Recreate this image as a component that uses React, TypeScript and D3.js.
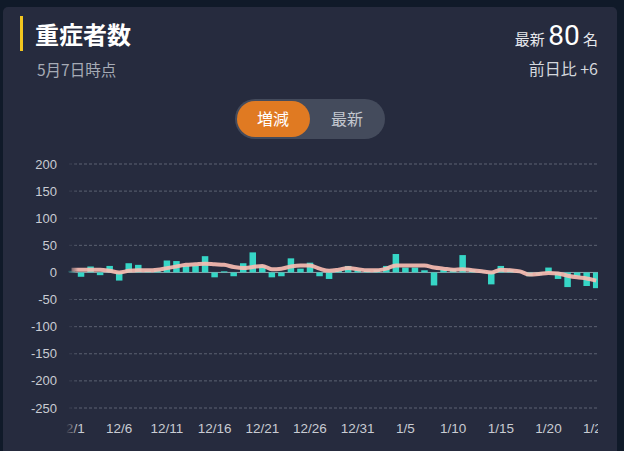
import { useEffect, useRef } from 'react';
import * as d3 from 'd3';

// daily change in severe cases, 12/1 onward (one value per day)
const changes: number[] = [
  3, -8, 11, -5, 12, -15, 17, 14, 3, 4,
  22, 21, 12, 12, 30, -9, 2, -7, 17, 37,
  13, -9, -7, 26, 7, 18, -7, -12, 3, 12,
  4, 3, 5, 12, 34, 9, 9, 4, -24, 5,
  6, 32, 5, 3, -22, 12, 5, 2, -7, -5,
  9, -12, -27, -7, -25, -29,
];
// 7-day average line
const average: number[] = [
  5, 5, 5, 5, 3, 0, 3, 4, 4, 5,
  8, 11, 14, 15, 16, 15, 14, 10, 8, 10,
  12, 6, 7, 11, 13, 13, 7, 3, 5, 8,
  6, 4, 4, 7, 13, 13, 13, 13, 9, 7,
  5, 6, 4, 2, 0, 5, 4, 2, -4, -3,
  -1, -2, -6, -9, -11, -15,
];
const dayLabels: string[] = [
  '12/1', '12/6', '12/11', '12/16', '12/21', '12/26', '12/31',
  '1/5', '1/10', '1/15', '1/20', '1/25',
];
const yTicks: number[] = [200, 150, 100, 50, 0, -50, -100, -150, -200, -250];

const W = 624;
const H = 451;
const CARD = '#262b3e';

export default function App() {
  const ref = useRef<SVGSVGElement>(null);

  useEffect(() => {
    if (!ref.current) return;
    const svg = d3.select(ref.current);
    svg.selectAll('*').remove();

    svg.append('rect').attr('width', W).attr('height', H).attr('fill', '#101a29');
    svg.append('rect').attr('x', 3).attr('y', 7).attr('width', 614).attr('height', 460)
      .attr('rx', 5).attr('fill', CARD);

    // header
    svg.append('rect').attr('x', 20).attr('y', 16).attr('width', 3).attr('height', 35).attr('fill', '#f2c61f');
    const cjk = "'Noto Sans CJK JP', 'Noto Sans', sans-serif";
    svg.append('text').attr('x', 35).attr('y', 44).attr('fill', '#ffffff')
      .attr('font-family', cjk).attr('font-size', 24).attr('font-weight', 700).text('重症者数');
    svg.append('text').attr('x', 37).attr('y', 76).attr('fill', '#a6abb6')
      .attr('font-family', cjk).attr('font-size', 15.5).text('5月7日時点');

    const latest = svg.append('text').attr('x', 598).attr('y', 45).attr('text-anchor', 'end')
      .attr('fill', '#e6e8ec').attr('font-family', cjk);
    latest.append('tspan').attr('font-size', 15).text('最新 ');
    latest.append('tspan').attr('font-size', 28).attr('fill', '#ffffff')
      .attr('font-family', "Roboto, 'Noto Sans', sans-serif").text('80');
    latest.append('tspan').attr('font-size', 15).text(' 名');
    svg.append('text').attr('x', 598).attr('y', 75).attr('text-anchor', 'end')
      .attr('fill', '#d4d7dd').attr('font-family', cjk).attr('font-size', 16).text('前日比 +6');

    // toggle
    svg.append('rect').attr('x', 235).attr('y', 99).attr('width', 150).attr('height', 40)
      .attr('rx', 20).attr('fill', '#444b5c');
    svg.append('rect').attr('x', 237).attr('y', 101).attr('width', 73).attr('height', 36)
      .attr('rx', 18).attr('fill', '#e07a22');
    svg.append('text').attr('x', 273).attr('y', 125).attr('text-anchor', 'middle').attr('fill', '#ffffff')
      .attr('font-family', cjk).attr('font-size', 16).text('増減');
    svg.append('text').attr('x', 347).attr('y', 125).attr('text-anchor', 'middle').attr('fill', '#c3c7cf')
      .attr('font-family', cjk).attr('font-size', 16).text('最新');

    // scales
    const y = d3.scaleLinear().domain([-250, 200]).range([408, 164]);
    const x = d3.scaleLinear().domain([0, 1]).range([71.5, 81.04]);
    const left = 66;
    const right = 598;

    // y axis
    const axisFont = "'Liberation Sans', Arial, sans-serif";
    yTicks.forEach((t) => {
      svg.append('text').attr('x', 57).attr('y', y(t) + 4.5).attr('text-anchor', 'end')
        .attr('fill', '#c9ccd3').attr('font-family', axisFont).attr('font-size', 13).text(String(t));
      svg.append('line').attr('x1', 69).attr('x2', right).attr('y1', y(t)).attr('y2', y(t))
        .attr('stroke', t === 0 ? '#9aa0ab' : '#5c6272').attr('stroke-width', 1)
        .attr('stroke-dasharray', t === 0 ? null : '3,2');
    });

    // scrollable plot area
    svg.append('clipPath').attr('id', 'plot').append('rect')
      .attr('x', left).attr('y', 150).attr('width', right - left).attr('height', 290);
    const plot = svg.append('g').attr('clip-path', 'url(#plot)');

    const bw = 6.5;
    plot.selectAll('rect.bar').data(changes).enter().append('rect')
      .attr('class', 'bar')
      .attr('x', (_, i) => x(i) - bw / 2)
      .attr('y', (d) => Math.min(y(d), y(0)))
      .attr('width', bw)
      .attr('height', (d) => Math.abs(y(d) - y(0)))
      .attr('fill', '#36d6c6');

    const line = d3.line<number>().x((_, i) => x(i)).y((d) => y(d)).curve(d3.curveMonotoneX);
    plot.append('path').datum(average).attr('d', line).attr('fill', 'none')
      .attr('stroke', '#f7bcb1').attr('stroke-width', 4).attr('opacity', 0.92);

    plot.selectAll('text.xl').data(dayLabels).enter().append('text')
      .attr('class', 'xl')
      .attr('x', (_, i) => x(i * 5)).attr('y', 433).attr('text-anchor', 'middle')
      .attr('fill', '#c9ccd3').attr('font-family', axisFont).attr('font-size', 13.5).text((d) => d);

    // left fade of scroll area
    const grad = svg.append('linearGradient').attr('id', 'fade');
    grad.append('stop').attr('offset', '0%').attr('stop-color', CARD).attr('stop-opacity', 1);
    grad.append('stop').attr('offset', '100%').attr('stop-color', CARD).attr('stop-opacity', 0);
    svg.append('rect').attr('x', left).attr('y', 150).attr('width', 12).attr('height', 290)
      .attr('fill', 'url(#fade)');
  }, []);

  return (
    <div style={{ position: 'absolute', left: 0, top: 0 }}>
      <svg ref={ref} width={W} height={H} style={{ display: 'block' }} />
    </div>
  );
}
